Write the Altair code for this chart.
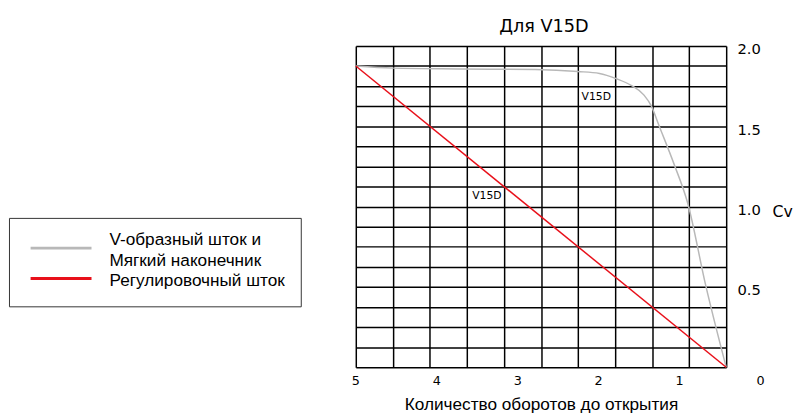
import altair as alt
import pandas as pd
import numpy as np

# ---- data ----
gray_name = "V-образный шток и|Мягкий наконечник"
red_name = "Регулировочный шток"

gray_turns = [5.0, 4.54, 3.69, 2.78, 2.26, 1.99, 1.78, 1.60, 1.44, 1.35, 1.26, 1.07, 0.90, 0.68, 0.425]
gray_cv = [1.875, 1.862, 1.857, 1.853, 1.841, 1.829, 1.796, 1.755, 1.694, 1.627, 1.511, 1.266, 1.021, 0.514, 0.0]

red_turns = [5.0, 0.425]
red_cv = [1.875, 0.0]

x_tick_labels = [5, 4, 3, 2, 1, 0]

annot_turns = [2.03, 3.38]
annot_cv = [1.68, 1.067]
annot_text = ["V15D", "V15D"]

x_min, x_max = 0.425, 5.0
n_cols = 10
y_step = 0.125

lines_df = pd.concat([
    pd.DataFrame({"turns": gray_turns, "cv": gray_cv, "series": gray_name}),
    pd.DataFrame({"turns": red_turns, "cv": red_cv, "series": red_name}),
])
ticks_df = pd.DataFrame({"turns": x_tick_labels, "label": [str(v) for v in x_tick_labels]})
annot_df = pd.DataFrame({"turns": annot_turns, "cv": annot_cv, "label": annot_text})

W, H = 377, 327

x_grid = [float(v) for v in np.linspace(x_min, x_max, n_cols + 1)]
y_grid = [float(v) for v in np.arange(0, 2.0 + 1e-9, y_step)]

# blank spacer title adds a little room above the entries
legend = alt.Legend(
    orient="none", legendX=-353, legendY=175,
    title="\u00a0", titleFont="Liberation Sans", titleFontSize=6, titlePadding=3,
    labelExpr="split(datum.label, '|')",
    labelBaseline={"expr": "indexof(datum.value, '|') >= 0 ? 'line-bottom' : 'middle'"},
    labelFont="Liberation Sans", labelFontSize=17.5, labelColor="#000", labelLimit=400,
    symbolType="M-6.2,-0.6H6.2", symbolSize=100, symbolStrokeWidth=3,
    symbolOffset=28.25, labelOffset=40.5,
    padding=16, rowPadding=2,
    strokeColor="#333", fillColor="white",
)

lines = alt.Chart(lines_df).mark_line(strokeWidth=1.5, interpolate="monotone").encode(
    x=alt.X("turns:Q",
            scale=alt.Scale(domain=[x_min, x_max], reverse=True, nice=False, zero=False),
            axis=alt.Axis(values=x_grid, tickCount=50, grid=True, labels=False, ticks=False,
                          domain=False, gridColor="#000", gridWidth=1.5, gridOpacity=1,
                          title="Количество оборотов до открытия",
                          titleFont="Liberation Sans", titleFontSize=17.5,
                          titleFontWeight="normal", titleColor="#000", titlePadding=29)),
    y=alt.Y("cv:Q",
            scale=alt.Scale(domain=[0, 2], nice=False),
            axis=alt.Axis(orient="right", values=y_grid, tickCount=50, grid=True, ticks=False,
                          domain=False, gridColor="#000", gridWidth=1.5, gridOpacity=1,
                          labelExpr="datum.value > 0 && abs(datum.value*2 - round(datum.value*2)) < 0.000001 ? format(datum.value, '.1f') : ''",
                          labelFont="DejaVu Sans", labelFontSize=15, labelColor="#000",
                          labelPadding=11, labelOffset=3,
                          title="Cv", titleAngle=0, titleX=57, titleY=169,
                          titleAlign="center", titleBaseline="middle",
                          titleFont="DejaVu Sans", titleFontSize=16,
                          titleFontWeight="normal", titleColor="#000")),
    color=alt.Color("series:N",
                    scale=alt.Scale(domain=[gray_name, red_name], range=["#b8b8b8", "#e8101a"]),
                    legend=legend),
    order=alt.Order("turns:Q", sort="descending"),
)

tick_text = alt.Chart(ticks_df).mark_text(font="DejaVu Sans", fontSize=13, baseline="middle",
                                          color="#000").encode(
    x=alt.X("turns:Q"),
    y=alt.value(H + 14),
    text="label:N",
)

annot = alt.Chart(annot_df).mark_text(font="DejaVu Sans", fontSize=11, color="#000").encode(
    x=alt.X("turns:Q"),
    y=alt.Y("cv:Q"),
    text="label:N",
)

chart = alt.layer(lines, tick_text, annot).properties(
    width=W, height=H,
    title=alt.TitleParams("Для V15D", font="DejaVu Sans", fontSize=18, fontWeight="normal",
                          color="#000", anchor="middle", offset=6, dx=3),
    padding={"left": 0, "top": 7, "right": 0, "bottom": 0},
    background="white",
).configure(style={"guide-label": {"lineHeight": 21.3}}).configure_view(stroke=None)

chart.save("out.html", embed_options={"renderer": "svg", "actions": False})
